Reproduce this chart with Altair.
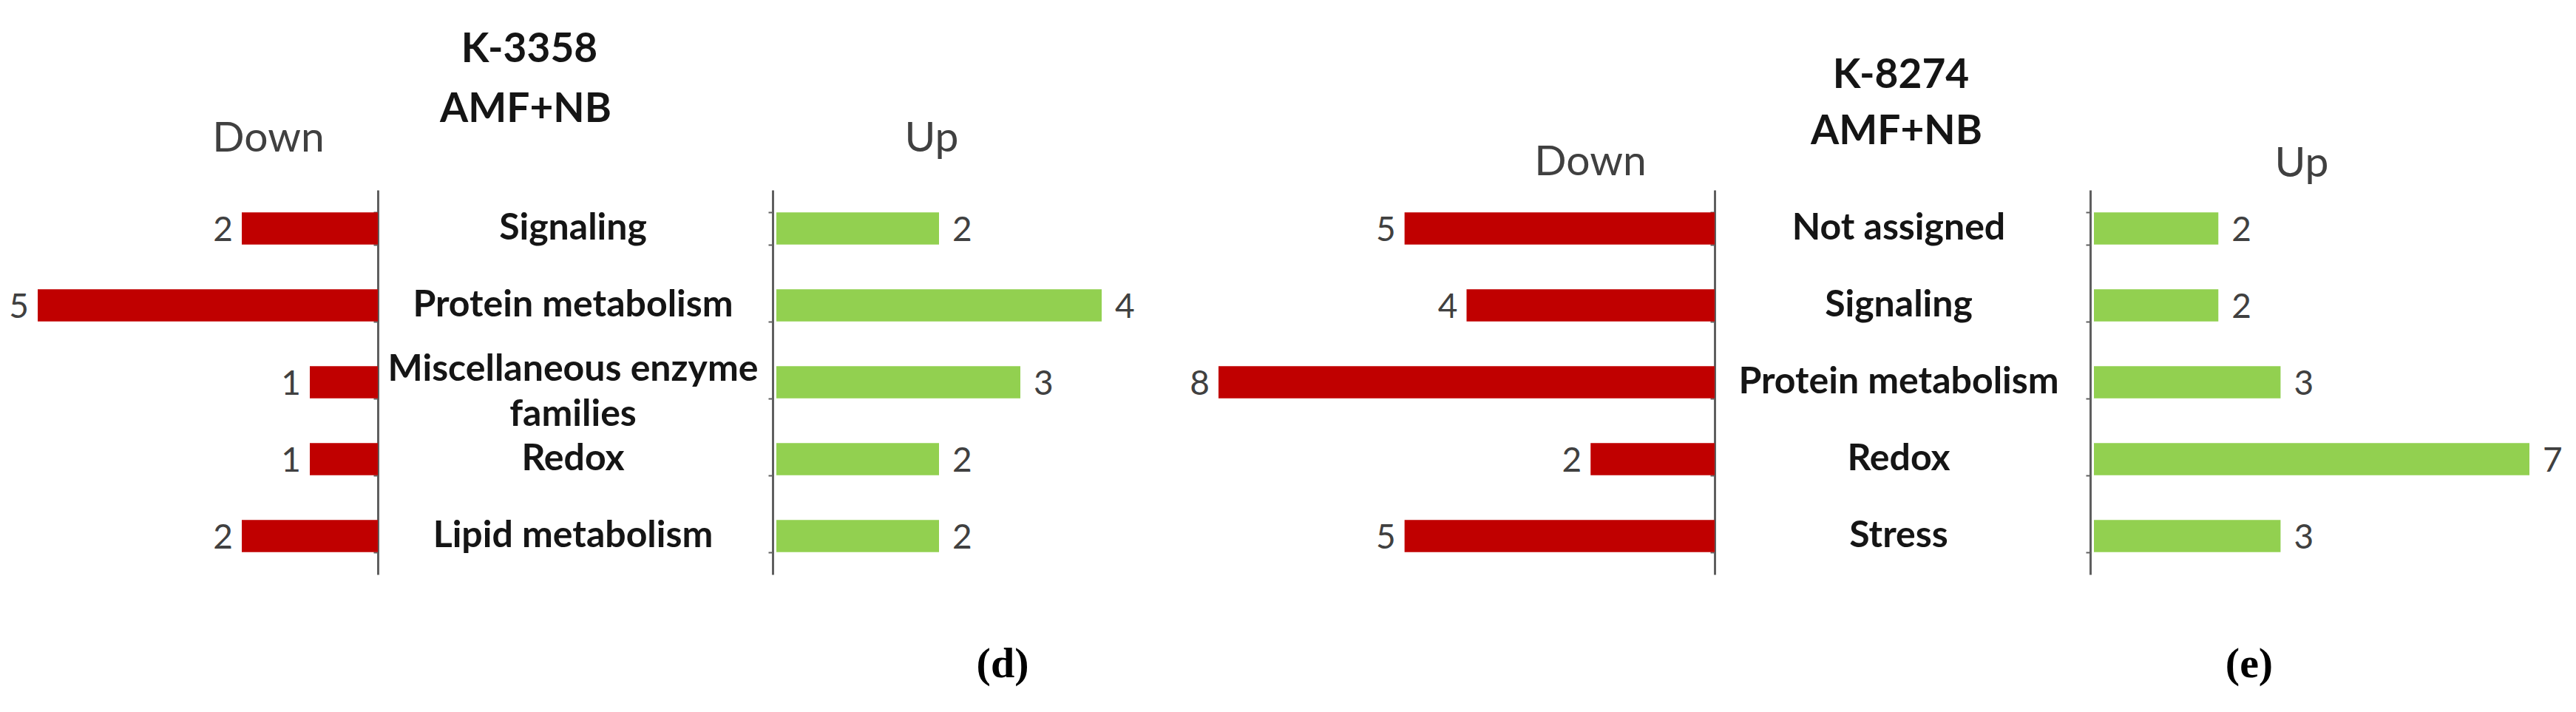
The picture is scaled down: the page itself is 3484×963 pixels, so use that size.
import altair as alt
import pandas as pd

# ---------------- data ----------------
cats_d = ["Signaling", "Protein metabolism", "Miscellaneous enzyme\nfamilies", "Redox", "Lipid metabolism"]
down_d = [2, 5, 1, 1, 2]
up_d = [2, 4, 3, 2, 2]

cats_e = ["Not assigned", "Signaling", "Protein metabolism", "Redox", "Stress"]
down_e = [5, 4, 8, 2, 5]
up_e = [2, 2, 3, 7, 3]

title_d = ["K-3358", "AMF+NB"]
title_e = ["K-8274", "AMF+NB"]
side_labels = ["Down", "Up"]
tags = ["(d)", "(e)"]

RED = "#C00000"
GREEN = "#92D050"
AXIS_COL = "#5f5f5f"
W, H = 3460, 940

one = pd.DataFrame({"k": [0]})


def txt(text, x, y, size, weight="normal", color="#404040", font="Lato"):
    return alt.Chart(one).mark_text(
        text=text, align="center", baseline="middle", font=font,
        fontSize=size, fontWeight=weight, color=color
    ).encode(x=alt.value(x), y=alt.value(y))


def panel(cats, down, up, down_rng, up_rng, dmax, umax, cat_x,
          title, t1, t2, down_xy, up_xy, tag, tag_xy):
    df = pd.DataFrame({"cat": cats, "down": down, "up": up})
    yscale = alt.Scale(domain=cats, range=[249, 769], paddingInner=0.58, paddingOuter=0.29)
    xd = alt.Scale(domain=[0, dmax], range=down_rng, nice=False, zero=True)
    xu = alt.Scale(domain=[0, umax], range=up_rng, nice=False, zero=True)
    base = alt.Chart(df)
    axis_kw = dict(labels=False, title=None, domainColor=AXIS_COL, domainWidth=3,
                   tickColor=AXIS_COL, tickWidth=2, tickSize=6, tickBand="extent",
                   grid=False, orient="left")
    down_bar = base.mark_bar(color=RED).encode(
        x=alt.X("down:Q", scale=xd, axis=None),
        y=alt.Y("cat:N", scale=yscale, axis=alt.Axis(offset=-down_rng[0], **axis_kw)),
    )
    up_bar = base.mark_bar(color=GREEN).encode(
        x=alt.X("up:Q", scale=xu, axis=None),
        y=alt.Y("cat:N", scale=yscale, axis=alt.Axis(offset=-(up_rng[0] - 5), **axis_kw)),
    )
    down_txt = base.mark_text(align="right", baseline="middle", dx=-12, dy=3,
                              font="Lato", fontSize=46, color="#404040").encode(
        x=alt.X("down:Q", scale=xd, axis=None),
        y=alt.Y("cat:N", scale=yscale, axis=None),
        text="down:Q",
    )
    up_txt = base.mark_text(align="left", baseline="middle", dx=18, dy=3,
                            font="Lato", fontSize=46, color="#404040").encode(
        x=alt.X("up:Q", scale=xu, axis=None),
        y=alt.Y("cat:N", scale=yscale, axis=None),
        text="up:Q",
    )
    cat_style = dict(align="center", baseline="middle", lineBreak="\n",
                     lineHeight=61, font="Lato", fontWeight="bold",
                     fontSize=50, color="#151515")
    cat_enc = dict(x=alt.value(cat_x),
                   y=alt.Y("cat:N", scale=yscale, axis=None),
                   text="cat:N")
    cat_single = base.transform_filter(
        "indexof(datum.cat, '\\n') < 0").mark_text(**cat_style).encode(**cat_enc)
    cat_multi = base.transform_filter(
        "indexof(datum.cat, '\\n') >= 0").mark_text(dy=-17, **cat_style).encode(**cat_enc)
    layers = [down_bar, up_bar, down_txt, up_txt, cat_single, cat_multi,
              txt(title[0], t1[0], t1[1], 55, "bold", "#151515"),
              txt(title[1], t2[0], t2[1], 55, "bold", "#151515"),
              txt(side_labels[0], down_xy[0], down_xy[1], 57),
              txt(side_labels[1], up_xy[0], up_xy[1], 57),
              txt(tag, tag_xy[0], tag_xy[1], 58, "bold", "#000000", "Liberation Serif")]
    return layers


layers = []
layers += panel(cats_d, down_d, up_d, [503, 43], [1042, 1482], 5, 4, 767,
                title_d, (708, 59), (703, 140), (355, 180), (1252, 180), tags[0], (1348, 891))
layers += panel(cats_e, down_e, up_e, [2311, 1640], [2824, 3413], 8, 7, 2560,
                title_e, (2563, 94), (2557, 170), (2143, 212), (3105, 214), tags[1], (3034, 891))

chart = alt.layer(*layers).resolve_scale(x="independent", y="independent").properties(
    width=W, height=H, padding=0, autosize="none", background="white"
).configure_view(stroke=None)

chart.save("out.html", embed_options={"renderer": "svg", "actions": False})
